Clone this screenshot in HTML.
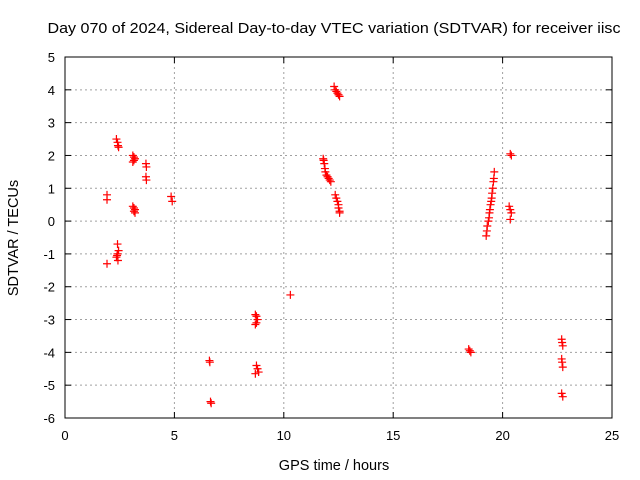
<!DOCTYPE html>
<html><head><meta charset="utf-8"><style>body{margin:0;background:#fff}svg{display:block;font-family:"Liberation Sans",sans-serif}</style></head>
<body>
<svg id="chart" width="640" height="480">
<rect width="640" height="480" fill="#fff"/>
<text x="334" y="33" font-size="15" text-anchor="middle" textLength="573" lengthAdjust="spacingAndGlyphs">Day 070 of 2024, Sidereal Day-to-day VTEC variation (SDTVAR) for receiver iisc</text>
<g id="grid"></g><g id="axes"></g><g id="marks"></g>
<text x="334" y="470" font-size="14.5" text-anchor="middle">GPS time / hours</text>
<text x="18" y="238" font-size="14.5" text-anchor="middle" transform="rotate(-90 18 238)">SDTVAR / TECUs</text>
</svg>
<script>
const xTicks=[0,5,10,15,20,25];
const yTicks=[5,4,3,2,1,0,-1,-2,-3,-4,-5,-6];
const times=[1.92,1.92,1.92,
2.35,2.4,2.42,2.45,2.4,2.45,2.4,2.38,2.35,2.42,
3.1,3.15,3.2,3.15,3.1,3.1,3.15,3.2,3.15,3.2,
3.7,3.72,3.7,3.72,4.85,4.9,6.6,6.62,6.65,6.68,
8.7,8.75,8.8,8.75,8.7,8.75,8.8,8.85,8.7,10.3,
11.8,11.82,11.85,11.88,11.9,11.95,12.0,12.05,12.1,12.15,
12.3,12.35,12.4,12.45,12.5,12.55,12.35,12.4,12.45,12.5,12.5,12.55,12.55,
18.45,18.5,18.55,
19.25,19.28,19.3,19.35,19.38,19.4,19.42,19.45,19.48,19.5,19.52,19.55,19.58,19.6,19.62,
20.35,20.4,20.3,20.35,20.4,20.35,
22.7,22.72,22.75,22.7,22.72,22.75,22.7,22.75];
const values=[0.8,0.65,-1.3,
2.5,2.4,2.3,2.25,-0.7,-0.9,-1.0,-1.05,-1.1,-1.2,
2.0,1.95,1.9,1.85,1.8,0.45,0.4,0.35,0.3,0.25,
1.75,1.65,1.35,1.25,0.75,0.6,-4.25,-4.3,-5.5,-5.55,
-2.85,-2.9,-3.0,-3.1,-3.15,-4.4,-4.5,-4.6,-4.65,-2.25,
1.9,1.85,1.75,1.6,1.5,1.4,1.35,1.3,1.25,1.2,
4.1,4.0,3.95,3.9,3.85,3.8,0.8,0.7,0.6,0.5,0.4,0.3,0.25,
-3.9,-3.95,-4.0,
-0.45,-0.3,-0.15,0.0,0.1,0.25,0.35,0.5,0.6,0.7,0.85,1.0,1.2,1.3,1.5,
2.05,2.0,0.45,0.35,0.25,0.05,
-3.6,-3.7,-3.8,-4.2,-4.3,-4.45,-5.25,-5.35];
const L=65,R=612,T=57,B=418;
const sx=v=>L+(v-0)/(25-0)*(R-L);
const sy=v=>T+(5-v)/(5+6)*(B-T);
const NS="http://www.w3.org/2000/svg";
function mk(tag,attrs,parent){const e=document.createElementNS(NS,tag);for(const k in attrs)e.setAttribute(k,attrs[k]);parent.appendChild(e);return e;}
const grid=document.getElementById('grid'),axes=document.getElementById('axes'),marks=document.getElementById('marks');
xTicks.forEach(t=>{const x=sx(t);
 if(t>0&&t<25){const g=mk('line',{x1:x,x2:x,y1:T,y2:B,stroke:'#a0a0a0','stroke-dasharray':'2,3'},grid);}
 mk('line',{x1:x,x2:x,y1:B,y2:B-6,stroke:'#000'},axes);mk('line',{x1:x,x2:x,y1:T,y2:T+6,stroke:'#000'},axes);
 const tx=mk('text',{x:x,y:B+22,'font-size':13,'text-anchor':'middle'},axes);tx.textContent=t;
 });
yTicks.forEach(t=>{const y=sy(t);
 if(t<5&&t>-6){const g=mk('line',{x1:L,x2:R,y1:y,y2:y,stroke:'#a0a0a0','stroke-dasharray':'2,3'},grid);}
 mk('line',{x1:L,x2:L+6,y1:y,y2:y,stroke:'#000'},axes);mk('line',{x1:R,x2:R-6,y1:y,y2:y,stroke:'#000'},axes);
 const tx=mk('text',{x:L-10,y:y+5,'font-size':13,'text-anchor':'end'},axes);tx.textContent=t;
 });
const fr=mk('rect',{x:L,y:T,width:R-L,height:B-T,fill:'none',stroke:'#000'},axes);

times.forEach((t,i)=>{const x=sx(t),y=sy(values[i]);
 const p=mk('path',{d:`M${x-4},${y}H${x+4}M${x},${y-4}V${y+4}`,stroke:'#f00','stroke-width':1.2},marks);
 });
</script>
</body></html>
